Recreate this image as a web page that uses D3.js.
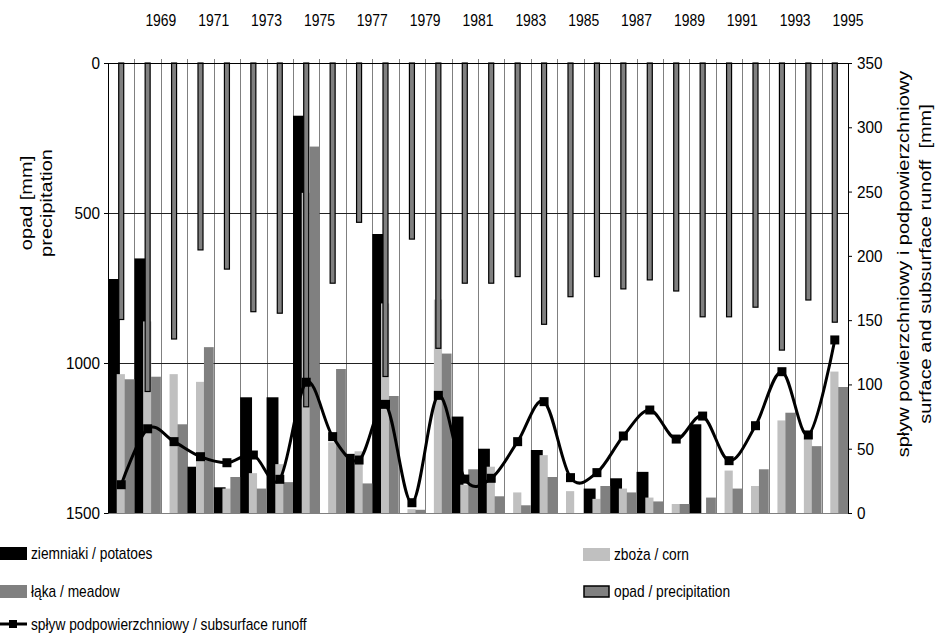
<!DOCTYPE html>
<html>
<head>
<meta charset="utf-8">
<script src="https://cdn.jsdelivr.net/npm/d3@7"></script>
<style>
  body { margin: 0; background: #fff; }
  svg { display: block; }
  text { font-family: "Liberation Sans", Arial, sans-serif; fill: #000; }
</style>
</head>
<body>
<div id="chart"></div>
<script>
// ---------------------------------------------------------
// DATA
// ---------------------------------------------------------
const years = [1968, 1969, 1970, 1971, 1972, 1973, 1974, 1975, 1976, 1977,
               1978, 1979, 1980, 1981, 1982, 1983, 1984, 1985, 1986, 1987,
               1988, 1989, 1990, 1991, 1992, 1993, 1994, 1995];

// opad / precipitation [mm] (left axis, reversed)
const precipitation = [855, 1095, 920, 623, 687, 829, 834, 1146, 734, 531,
                       1045, 587, 951, 734, 734, 712, 871, 779, 712, 753,
                       723, 760, 846, 846, 814, 957, 790, 864];

// surface runoff [mm] by land use (right axis)
const potatoes = [182, 198, 0, 36, 20, 90, 90, 309, 0, 46,
                  217, 0, 0, 75, 50, 0, 49, 0, 19, 27,
                  32, 0, 69, 0, 0, 0, 0, 0];
const corn = [108, 149, 108, 102, 19, 31, 38, 249, 55, 48,
              163, 3, 166, 22, 36, 16, 45, 17, 11, 19,
              12, 7, 0, 33, 21, 72, 58, 110];
const meadow = [104, 106, 69, 129, 28, 19, 24, 285, 112, 23,
                91, 2.5, 124, 34, 13, 6, 28, 0, 21, 16,
                9, 7, 12, 19, 34, 78, 52, 98];

// spływ podpowierzchniowy / subsurface runoff [mm] (right axis)
const subsurface = [22, 65.5, 55.5, 43.8, 39.1, 45.1, 26.2, 101.7, 59.4, 41.2,
                    84.5, 8, 91.5, 26.4, 27, 55.5, 86.6, 27.5, 31.4, 59.9,
                    80.1, 57.5, 75.4, 40.7, 67.9, 109.9, 60.7, 134.6];

const yearLabels = [1969, 1971, 1973, 1975, 1977, 1979, 1981, 1983, 1985, 1987, 1989, 1991, 1993, 1995];
const leftTicks = [0, 500, 1000, 1500];
const rightTicks = [0, 50, 100, 150, 200, 250, 300, 350];

// bar offset / width as share of the year slot (bars overlap a little)
const crops = [
  { key: "potatoes", values: potatoes, color: "#000000", label: "ziemniaki / potatoes", off: 0,    w: 0.45 },
  { key: "corn",     values: corn,     color: "#c0c0c0", label: "zboża / corn",         off: 0.33, w: 0.31 },
  { key: "meadow",   values: meadow,   color: "#808080", label: "łąka / meadow",        off: 0.63, w: 0.37 }
];

// ---------------------------------------------------------
// SVG + SCALES
// ---------------------------------------------------------
const width = 938, height = 634;
const plotL = 108, plotR = 848, plotT = 63, plotB = 513;
const SQ = 0.87;   // the lettering of the original is narrow

const svg = d3.select("#chart").append("svg")
    .attr("width", width)
    .attr("height", height);

const x = d3.scaleBand().domain(years).range([plotL, plotR]);
const bw = x.bandwidth();
const yP = d3.scaleLinear().domain([0, 1500]).range([plotT, plotB]);
const yR = d3.scaleLinear().domain([0, 350]).range([plotB, plotT]);

// gridlines
svg.append("g")
  .selectAll("line")
  .data(years.slice(1))
  .enter().append("line")
    .attr("x1", d => Math.round(x(d)) + 0.5).attr("x2", d => Math.round(x(d)) + 0.5)
    .attr("y1", plotT - 4).attr("y2", plotB)
    .attr("stroke", "#808080").attr("stroke-width", 1);

svg.append("g")
  .selectAll("line")
  .data([500, 1000])
  .enter().append("line")
    .attr("x1", plotL).attr("x2", plotR)
    .attr("y1", d => yP(d) + 0.5).attr("y2", d => yP(d) + 0.5)
    .attr("stroke", "#222").attr("stroke-width", 1);

// crop bars (surface runoff)
crops.forEach(c => {
  svg.append("g")
    .selectAll("rect")
    .data(years)
    .enter().append("rect")
      .attr("x", d => x(d) + c.off * bw)
      .attr("width", c.w * bw)
      .attr("y", (d, i) => yR(c.values[i]))
      .attr("height", (d, i) => yR(0) - yR(c.values[i]))
      .attr("fill", c.color);
});

// precipitation bars hanging from the top
const pw = 5;
svg.append("g")
  .selectAll("rect")
  .data(years)
  .enter().append("rect")
    .attr("x", d => x(d) + bw / 2 - pw / 2)
    .attr("y", yP(0))
    .attr("width", pw)
    .attr("height", (d, i) => yP(precipitation[i]) - yP(0))
    .attr("fill", "#808080")
    .attr("stroke", "#000")
    .attr("stroke-width", 1.2);

// frame lines
svg.append("line").attr("x1", plotL).attr("x2", plotR).attr("y1", plotT + 0.5).attr("y2", plotT + 0.5).attr("stroke", "#000");
svg.append("line").attr("x1", plotL).attr("x2", plotR).attr("y1", plotB + 0.5).attr("y2", plotB + 0.5).attr("stroke", "#808080");

// top category labels (sit on every second gridline)
svg.append("g")
  .selectAll("text")
  .data(yearLabels)
  .enter().append("text")
    .attr("transform", d => `translate(${x(d) + bw},26) scale(${SQ},1)`)
    .attr("text-anchor", "middle")
    .attr("font-size", 16)
    .text(d => d);

// left axis (precipitation)
const gL = svg.append("g")
    .attr("transform", `translate(${plotL},0)`)
    .call(d3.axisLeft(yP).tickValues(leftTicks).tickFormat(d3.format("d"))
      .tickSize(4).tickSizeOuter(0).tickPadding(5));

// right axis (runoff)
const gR = svg.append("g")
    .attr("transform", `translate(${plotR},0)`)
    .call(d3.axisRight(yR).tickValues(rightTicks).tickFormat(d3.format("d"))
      .tickSize(4).tickSizeOuter(0).tickPadding(6));

[gL, gR].forEach(g => {
  g.select(".domain").attr("stroke", "#000");
  g.selectAll(".tick line").attr("stroke", "#000");
  g.selectAll(".tick text")
    .attr("font-size", 17).attr("font-family", null)
    .attr("transform", "scale(0.9,1)");
});

// subsurface runoff line
const line = d3.line()
    .x((d, i) => x(years[i]) + bw / 2)
    .y(d => yR(d))
    .curve(d3.curveCatmullRom.alpha(0));

svg.append("path")
  .datum(subsurface)
  .attr("d", line)
  .attr("fill", "none")
  .attr("stroke", "#000")
  .attr("stroke-width", 3);

svg.append("g")
  .selectAll("rect")
  .data(subsurface)
  .enter().append("rect")
    .attr("x", (d, i) => x(years[i]) + bw / 2 - 4.5)
    .attr("y", d => yR(d) - 4.5)
    .attr("width", 9).attr("height", 9)
    .attr("fill", "#000");

// axis titles (rotated, read bottom to top)
const titles = [
  { text: "opad [mm]", x: 26, y: 203 },
  { text: "precipitation", x: 46, y: 203 },
  { text: "spływ powierzchniowy i podpowierzchniowy", x: 903, y: 264 },
  { text: "surface and subsurface runoff  [mm]", x: 925, y: 264 }
];
svg.append("g")
  .selectAll("text")
  .data(titles)
  .enter().append("text")
    .attr("transform", d => `translate(${d.x},${d.y}) rotate(-90) scale(1,${SQ})`)
    .attr("text-anchor", "middle")
    .attr("dy", "0.35em")
    .attr("font-size", 20)
    .style("white-space", "pre")
    .text(d => d.text);

// ---------------------------------------------------------
// LEGEND
// ---------------------------------------------------------
const legend = svg.append("g").attr("font-size", 16);
const legendItems = [
  { label: crops[0].label, color: crops[0].color, x: 0,   y: 553, kind: "bar" },
  { label: crops[1].label, color: crops[1].color, x: 583, y: 554, kind: "bar" },
  { label: crops[2].label, color: crops[2].color, x: 0,   y: 591, kind: "bar" },
  { label: "opad / precipitation", color: "#808080", x: 583, y: 591, kind: "precip" },
  { label: "spływ podpowierzchniowy / subsurface runoff", color: "#000", x: 0, y: 624, kind: "line" }
];

legendItems.forEach(it => {
  const g = legend.append("g").attr("transform", `translate(${it.x},${it.y})`);
  if (it.kind === "bar") {
    g.append("rect").attr("x", 0).attr("y", -6).attr("width", 27).attr("height", 13).attr("fill", it.color);
  } else if (it.kind === "precip") {
    g.append("rect").attr("x", 1).attr("y", -5).attr("width", 25).attr("height", 11)
      .attr("fill", it.color).attr("stroke", "#000").attr("stroke-width", 1.5);
  } else {
    g.append("line").attr("x1", 0).attr("x2", 27).attr("y1", 0).attr("y2", 0)
      .attr("stroke", "#000").attr("stroke-width", 3);
    g.append("rect").attr("x", 9).attr("y", -4).attr("width", 8).attr("height", 8).attr("fill", "#000");
  }
  g.append("text")
    .attr("transform", `translate(31,0) scale(0.86,1)`)
    .attr("dy", "0.35em")
    .text(it.label);
});
</script>
</body>
</html>
